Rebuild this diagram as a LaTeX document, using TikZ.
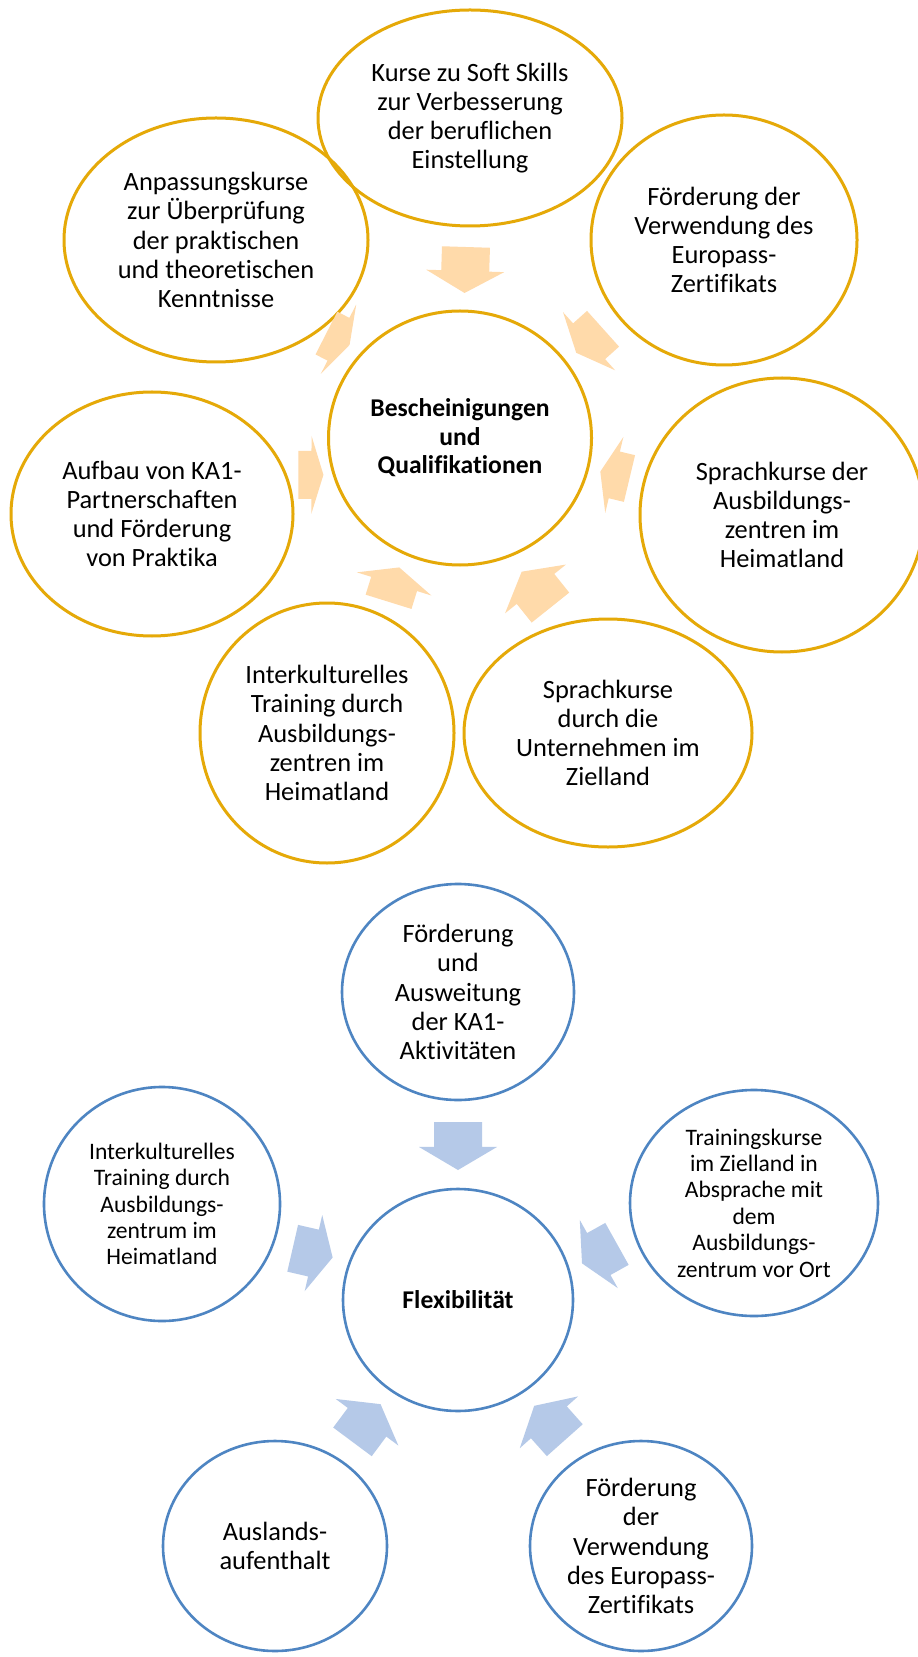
\documentclass[tikz,border=0pt]{standalone}
\usepackage{fontspec}
\setmainfont{Carlito}[Ligatures=NoCommon]
\usepackage{tikz}
\usetikzlibrary{shapes,calc}

\definecolor{gold}{RGB}{229,169,8}
\definecolor{pfirsich}{RGB}{255,218,170}
\definecolor{blaurand}{RGB}{78,133,194}
\definecolor{hellblau}{RGB}{181,201,232}

\tikzstyle{every node}=[font=\fontsize{13.2}{14.6}\selectfont]
\tikzstyle{gelb}=[ellipse,draw=gold,line width=1.5pt,align=center,inner sep=0pt]
\tikzstyle{blau}=[ellipse,draw=blaurand,line width=1.3pt,align=center,inner sep=0pt]
\tikzstyle{klein}=[font=\fontsize{11.8}{13.2}\selectfont]
\tikzstyle{fett}=[font=\fontsize{12.8}{14.3}\selectfont\bfseries]

% block arrow: [twist], from, to, position, length (px), fill
\newcommand{\pfeil}[6][0]{%
  \fill[#6] let \p1=(#2.center), \p2=(#3.center), \n1={atan2(\y2-\y1,\x2-\x1)+#1} in
    [shift={($(#2.center)!#4!(#3.center)$)}, rotate=\n1]
    (-#5/2,-24) -- (0.02*#5,-24) -- (0.02*#5,-39) -- (#5/2,0)
    -- (0.02*#5,39) -- (0.02*#5,24) -- (-#5/2,24) -- cycle;}

\begin{document}
\begin{tikzpicture}[x=0.5pt,y=-0.5pt]
\fill[white] (0,0) rectangle (917,1657);
\useasboundingbox (0,0) rectangle (917,1657);

% upper cycle
\node[gelb,minimum width=152pt,minimum height=108pt] (kurse) at (470,118)
  {Kurse zu Soft Skills\\zur Verbesserung\\der beruflichen\\Einstellung};
\node[gelb,minimum width=152pt,minimum height=122pt] (anpassung) at (216,240)
  {Anpassungskurse\\zur Überprüfung\\der praktischen\\und theoretischen\\Kenntnisse};
\node[gelb,minimum width=133pt,minimum height=125pt] (foerderung) at (724,240)
  {Förderung der\\Verwendung des\\Europass-\\Zertifikats};
\node[gelb,fett,minimum width=131.5pt,minimum height=127pt] (zentrum) at (460,438)
  {Bescheinigungen\\und\\Qualifikationen};
\node[gelb,minimum width=141pt,minimum height=122pt] (aufbau) at (152,514)
  {Aufbau von KA1-\\Partnerschaften\\und Förderung\\von Praktika};
\node[gelb,minimum width=142pt,minimum height=137pt] (sprachheim) at (782,515)
  {Sprachkurse der\\Ausbildungs-\\zentren im\\Heimatland};
\node[gelb,minimum width=127pt,minimum height=130pt] (interkult) at (327,733)
  {Interkulturelles\\Training durch\\Ausbildungs-\\zentren im\\Heimatland};
\node[gelb,minimum width=144pt,minimum height=114pt] (sprachziel) at (608,733)
  {Sprachkurse\\durch die\\Unternehmen im\\Zielland};

\pfeil{kurse}{zentrum}{0.475}{46}{pfirsich}
\pfeil[5]{foerderung}{zentrum}{0.509}{36}{pfirsich}
\pfeil[12]{anpassung}{zentrum}{0.5}{26}{pfirsich}
\pfeil[-14]{aufbau}{zentrum}{0.516}{25}{pfirsich}
\pfeil{sprachheim}{zentrum}{0.519}{30}{pfirsich}
\pfeil[12]{sprachziel}{zentrum}{0.486}{46}{pfirsich}
\pfeil[7]{interkult}{zentrum}{0.503}{36}{pfirsich}

% lower cycle
\node[blau,minimum width=116pt,minimum height=108pt] (ausweitung) at (458,992)
  {Förderung\\und\\Ausweitung\\der KA1-\\Aktivitäten};
\node[blau,klein,minimum width=118pt,minimum height=117pt] (interblau) at (162,1204)
  {Interkulturelles\\Training durch\\Ausbildungs-\\zentrum im\\Heimatland};
\node[blau,fett,minimum width=115pt,minimum height=111pt] (flex) at (458,1300)
  {Flexibilität};
\node[blau,klein,minimum width=124pt,minimum height=113pt] (training) at (754,1203)
  {Trainingskurse\\im Zielland in\\Absprache mit\\dem\\Ausbildungs-\\zentrum vor Ort};
\node[blau,minimum width=112pt,minimum height=105pt] (ausland) at (275,1546)
  {Auslands-\\aufenthalt};
\node[blau,minimum width=111pt,minimum height=105pt] (europass) at (641,1546)
  {Förderung\\der\\Verwendung\\des Europass-\\Zertifikats};

\pfeil{ausweitung}{flex}{0.5}{48}{hellblau}
\pfeil[11]{training}{flex}{0.522}{40}{hellblau}
\pfeil[5]{interblau}{flex}{0.509}{41}{hellblau}
\pfeil{ausland}{flex}{0.5}{47}{hellblau}
\pfeil[5]{europass}{flex}{0.5}{46}{hellblau}
\end{tikzpicture}
\end{document}
